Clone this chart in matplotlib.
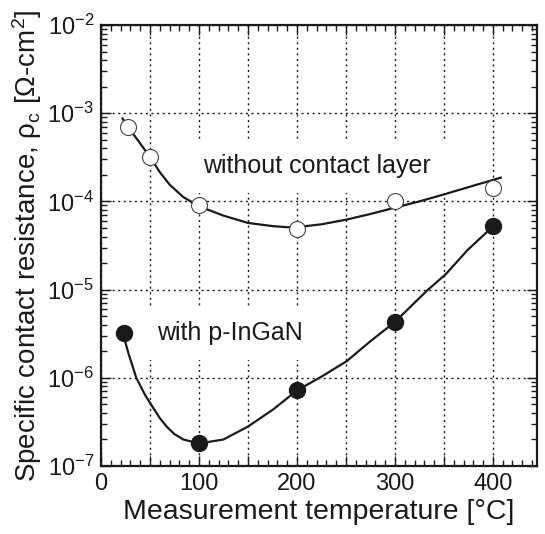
import math
import matplotlib
matplotlib.use("Agg")
import matplotlib.pyplot as plt
from matplotlib.ticker import MultipleLocator, FuncFormatter, LogLocator, NullFormatter

plt.rcParams['font.family'] = ['Liberation Sans', 'DejaVu Sans']
plt.rcParams['mathtext.fontset'] = 'custom'
plt.rcParams['mathtext.rm'] = 'Liberation Sans'
plt.rcParams['mathtext.it'] = 'Liberation Sans'
plt.rcParams['mathtext.default'] = 'regular'

# measured points
temp_open = [28, 50, 100, 200, 300, 400]
rho_open = [6.9e-4, 3.2e-4, 9.0e-5, 4.9e-5, 1.02e-4, 1.42e-4]

temp_filled = [23, 100, 200, 300, 400]
rho_filled = [3.2e-6, 1.84e-7, 7.3e-7, 4.3e-6, 5.2e-5]

# guide curves
fit_open_x = [22, 28, 50, 60, 70, 84, 100, 125, 150, 175, 190, 200, 225, 250,
              275, 300, 325, 350, 375, 408]
fit_open_y = [8.7e-4, 6.9e-4, 3.2e-4, 2.15e-4, 1.55e-4, 1.12e-4, 8.8e-5, 6.9e-5,
              5.7e-5, 5.25e-5, 5.1e-5, 5.1e-5, 5.5e-5, 6.2e-5, 7.2e-5, 8.5e-5,
              1.0e-4, 1.2e-4, 1.45e-4, 1.86e-4]

fit_filled_x = [23, 28, 36, 45, 52, 60, 67, 75, 84, 100, 125, 150, 176, 200,
                225, 251, 275, 300, 333, 352, 374, 400]
fit_filled_y = [3.0e-6, 1.9e-6, 1.0e-6, 6.4e-7, 4.8e-7, 3.5e-7, 2.8e-7, 2.3e-7,
                2.0e-7, 1.8e-7, 2.0e-7, 2.8e-7, 4.4e-7, 7.2e-7, 1.03e-6, 1.55e-6,
                2.6e-6, 4.3e-6, 9.8e-6, 1.5e-5, 2.8e-5, 5.2e-5]

fig = plt.figure(figsize=(5.45, 5.34), dpi=100)
ax = fig.add_axes([0.1853, 0.1273, 0.80, 0.8259])

ax.plot(fit_open_x, fit_open_y, color='#1a1a1a', lw=1.6, zorder=3)
ax.plot(fit_filled_x, fit_filled_y, color='#1a1a1a', lw=1.6, zorder=3)
ax.plot(temp_open, rho_open, 'o', ms=11.5, mfc='white', mec='#444444', mew=0.8,
        ls='none', zorder=4)
ax.plot(temp_filled, rho_filled, 'o', ms=11.5, mfc='#1a1a1a', mec='#1a1a1a',
        ls='none', zorder=4)

ax.set_yscale('log')
ax.set_xlim(0, 445)
ax.set_ylim(1e-7, 1e-2)

ax.xaxis.set_major_locator(MultipleLocator(50))
ax.xaxis.set_minor_locator(MultipleLocator(10))
ax.xaxis.set_major_formatter(FuncFormatter(
    lambda v, p: f"{int(v)}" if int(round(v)) % 100 == 0 else ""))
ax.yaxis.set_major_locator(LogLocator(base=10, numticks=10))
ax.yaxis.set_minor_locator(LogLocator(base=10, subs=range(2, 10), numticks=20))
ax.yaxis.set_minor_formatter(NullFormatter())
ax.yaxis.set_major_formatter(FuncFormatter(
    lambda v, p: r"$10^{%d}$" % round(math.log10(v))))

ax.tick_params(which='both', direction='in', top=True, right=True,
               labelsize=17, width=1.0, colors='#1a1a1a')
ax.tick_params(which='major', length=7, pad=5)
ax.tick_params(which='minor', length=4)

ax.grid(True, which='major', ls=(0, (1.5, 2.5)), color='#1a1a1a', lw=1.0)
ax.set_axisbelow(True)
for s in ax.spines.values():
    s.set_linewidth(1.6)
    s.set_color('#1a1a1a')

ax.set_xlabel('Measurement temperature [°C]', fontsize=20.5, color='#1a1a1a',
              labelpad=3)
ax.set_ylabel(r'Specific contact resistance, $\rho_c$ [$\Omega$-cm$^2$]',
              fontsize=20, color='#1a1a1a', labelpad=2)

ax.text(220, 10**-3.6, 'without contact layer', fontsize=18, color='#1a1a1a',
        ha='center', va='center', zorder=5,
        bbox=dict(facecolor='white', edgecolor='none', pad=11))
ax.text(132, 10**-5.49, 'with p-InGaN', fontsize=18, color='#1a1a1a',
        ha='center', va='center', zorder=5,
        bbox=dict(facecolor='white', edgecolor='none', pad=11))

fig.savefig('out.png', dpi=100)
